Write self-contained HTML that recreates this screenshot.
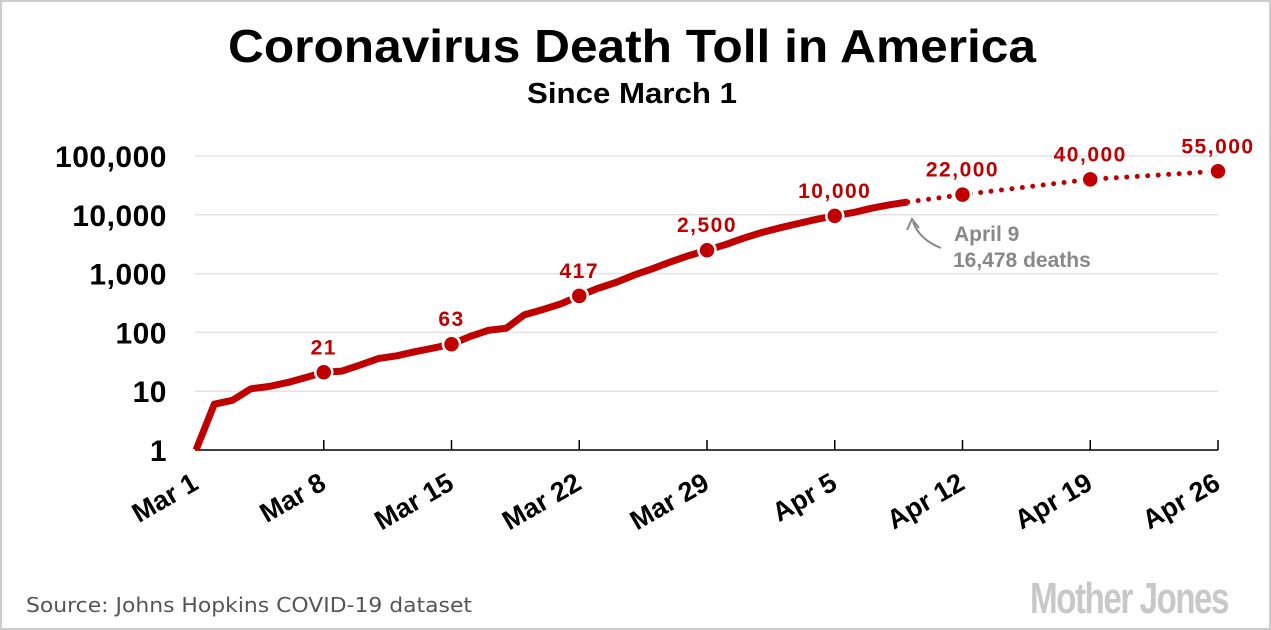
<!DOCTYPE html>
<html><head><meta charset="utf-8"><style>
html,body{margin:0;padding:0;background:#fff}
svg{display:block}
text{font-family:"Liberation Sans","DejaVu Sans",sans-serif;font-weight:bold}
</style></head><body>
<svg id="s" width="1271" height="630" xmlns="http://www.w3.org/2000/svg">
<rect x="1" y="1" width="1269" height="628" fill="#fff" stroke="#ccc" stroke-width="2"/>
<text x="228" y="62" font-size="46" fill="#000" textLength="808" lengthAdjust="spacingAndGlyphs">Coronavirus Death Toll in America</text>
<text x="527" y="103" font-size="29" fill="#000" textLength="210" lengthAdjust="spacingAndGlyphs">Since March 1</text>
<g id="g"></g>
<text x="26" y="612" font-size="20" fill="#555" textLength="446" lengthAdjust="spacingAndGlyphs" style="font-family:'DejaVu Sans',sans-serif;font-weight:normal">Source: Johns Hopkins COVID-19 dataset</text>
<text x="1030" y="613" font-size="44" fill="#c8c8c8" textLength="198" lengthAdjust="spacingAndGlyphs" style="letter-spacing:-2px">Mother Jones</text>
</svg>
<script>
var g=document.getElementById('g'),h='';
function X(d){return 196+d*18.25}
function Y(v){return 450-Math.log10(v)*58.8}
var yl=['1','10','100','1,000','10,000','100,000'];
for(var i=0;i<6;i++){var y=450-i*58.8;
 if(i>0)h+='<line x1="195" x2="1218" y1="'+y+'" y2="'+y+'" stroke="#e3e3e3" stroke-width="1.5"/>';
 h+='<text x="167" y="'+(y+11)+'" font-size="30" text-anchor="end" style="letter-spacing:0.5px">'+yl[i]+'</text>';}
h+='<line x1="195" x2="1218" y1="450" y2="450" stroke="#000" stroke-width="1.5"/>';
var tl=['Mar 1','Mar 8','Mar 15','Mar 22','Mar 29','Apr 5','Apr 12','Apr 19','Apr 26'];
for(var i=0;i<9;i++){var x=X(i*7);
 if(i>0)h+='<line x1="'+x+'" x2="'+x+'" y1="440" y2="450" stroke="#000" stroke-width="1.5"/>';
 h+='<text transform="translate('+(x+4)+',488) rotate(-30)" font-size="27" text-anchor="end">'+tl[i]+'</text>';}
var d=[1,6,7,11,12,14,17,21,22,28,36,40,47,54,63,85,108,118,200,244,307,417,557,706,942,1209,1581,2026,2500,3100,4000,5000,6000,7100,8400,9600,10900,12900,14800,16478];
var p=d.map(function(v,i){return X(i).toFixed(1)+','+Y(v).toFixed(1)}).join(' ');
h+='<polyline points="'+p+'" fill="none" stroke="#c00000" stroke-width="7" stroke-linejoin="round"/>';
h+='<polyline points="'+X(39)+','+Y(16478)+' '+X(42)+','+Y(22000)+' '+X(49)+','+Y(40000)+' '+X(56)+','+Y(55000)+'" fill="none" stroke="#c00000" stroke-width="5" stroke-dasharray="0 10.5" stroke-linecap="round"/>';
var pts=[[7,21,'21'],[14,63,'63'],[21,417,'417'],[28,2500,'2,500'],[35,9600,'10,000'],[42,22000,'22,000'],[49,40000,'40,000'],[56,55000,'55,000']];
pts.forEach(function(q){var x=X(q[0]),y=Y(q[1]);
 h+='<circle cx="'+x+'" cy="'+y+'" r="8.5" fill="#c00000" stroke="#fff" stroke-width="2.5"/>';
 h+='<text x="'+x+'" y="'+(y-18)+'" font-size="21" fill="#c00000" text-anchor="middle" style="letter-spacing:1.5px">'+q[2]+'</text>';});
h+='<path d="M941,248 Q920,240 913,222" fill="none" stroke="#888" stroke-width="2"/><path d="M907,230 L912,219 L919,228" fill="none" stroke="#888" stroke-width="2"/>';
h+='<text x="954" y="241" font-size="21" fill="#888">April 9</text><text x="953" y="267" font-size="21" fill="#888">16,478 deaths</text>';
g.innerHTML=h;
</script>
</body></html>
